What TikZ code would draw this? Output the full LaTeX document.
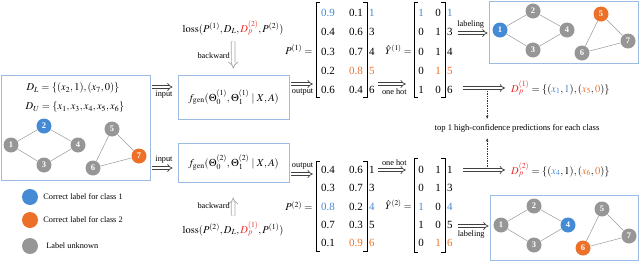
\documentclass[tikz,border=0pt]{standalone}
\usepackage{mathptmx}
\usepackage[no-math]{fontspec}
\setmainfont{Liberation Serif}
\usetikzlibrary{positioning, arrows.meta}

\definecolor{cblue}{RGB}{68,138,212}
\definecolor{corange}{RGB}{237,112,40}
\definecolor{gnodegray}{RGB}{150,150,150}
\definecolor{boxblue}{RGB}{155,187,226}
\definecolor{dpred}{RGB}{235,40,40}
\newcommand{\blu}[1]{\textcolor{cblue}{#1}}
\newcommand{\ora}[1]{\textcolor{corange}{#1}}

\begin{document}
\begin{tikzpicture}[
    x=1pt, y=-1pt,
    gnode/.style={circle, fill=gnodegray, text=white, minimum size=15pt, inner sep=0pt, font=\fontsize{8.5}{9}\selectfont\bfseries},
    gnodeB/.style={gnode, fill=cblue},
    gnodeO/.style={gnode, fill=corange},
    gedge/.style={draw=gray!80, line width=0.5pt},
    gbox/.style={draw=boxblue, line width=0.8pt, inner sep=0pt},
    harrow/.style={draw=black!75, double=white, double distance=2pt, line width=0.7pt, -{Implies}},
    barrow/.style={harrow, draw=black!35, double distance=3pt},
    dotarrow/.style={draw=black!80, densely dotted, line width=0.7pt, -{Stealth[length=3.5pt]}},
    lbl/.style={font=\fontsize{8.3}{9}\selectfont, inner sep=1pt},
    ent/.style={font=\fontsize{11}{12}\selectfont, inner sep=0pt},
    eqn/.style={font=\fontsize{10.5}{12}\selectfont, inner sep=1pt},
    brk/.style={line width=0.6pt}
]
\useasboundingbox (0,0) rectangle (640,279);

% === INPUT GRAPH (LEFT) ===
\node[gbox, minimum width=149pt, minimum height=105pt] (gbL) at (75.5,127.5) {};
\node[eqn] (DL) at (73,88) {$D_L=\{(x_2,1),(x_7,0)\}$};
\node[eqn] (DU) at (75,107) {$D_U=\{x_1,x_3,x_4,x_5,x_6\}$};

\begin{scope}[shift={(11,145)}]
    \node[gnode] (L1) at (0,0) {1};
    \node[gnodeB] (L2) at (33,-19) {2};
    \node[gnode] (L3) at (33,20) {3};
    \node[gnode] (L4) at (67,0) {4};
    \node[gnode] (L5) at (101,-16) {5};
    \node[gnode] (L6) at (82,23) {6};
    \node[gnodeO] (L7) at (128,11) {7};
    \draw[gedge] (L1) -- (L2) -- (L4) -- (L3) -- (L1);
    \draw[gedge] (L5) -- (L7) -- (L6) -- (L5);
\end{scope}

% Legend
\node[gnodeB, minimum size=16pt] (legB) at (30,197) {};
\node[lbl, right=4pt of legB] (legBt) {Correct label for class 1};
\node[gnodeO, minimum size=16pt] (legO) at (30,220) {};
\node[lbl, right=4pt of legO] (legOt) {Correct label for class 2};
\node[gnode, minimum size=16pt] (legG) at (30,246) {};
\node[lbl, right=7pt of legG] (legGt) {Label unknown};

% === TWO GENERATORS ===
\node[gbox, minimum width=111pt, minimum height=44pt] (fgen1) at (233.5,97) {};
\node[eqn] (fgen1t) at (fgen1.center) {$f_{\mathrm{gen}}(\Theta_0^{(1)},\Theta_1^{(1)}\mid X,A)$};
\node[gbox, minimum width=111pt, minimum height=39pt] (fgen2) at (233.5,162.5) {};
\node[eqn] (fgen2t) at (fgen2.center) {$f_{\mathrm{gen}}(\Theta_0^{(2)},\Theta_1^{(2)}\mid X,A)$};

\node[eqn] (loss1) at (233,28) {$\mathrm{loss}(P^{(1)},D_L,\textcolor{dpred}{D_p^{(2)}},P^{(2)})$};
\node[eqn] (loss2) at (233,229) {$\mathrm{loss}(P^{(2)},D_L,\textcolor{dpred}{D_p^{(1)}},P^{(1)})$};
\draw[barrow, shorten <=5pt, shorten >=6pt] (loss1) -- node[left=2pt, lbl]{backward} (fgen1);
\draw[barrow, shorten <=5pt, shorten >=15pt] (loss2) -- node[left=2pt, lbl, pos=0.4]{backward} (fgen2);

% Arrow levels
\coordinate (lvIn1) at (0,87);
\coordinate (lvIn2) at (0,168);
\coordinate (lvOut1) at (0,84);
\coordinate (lvOut2) at (0,174);
\coordinate (lvHot1) at (0,84);
\coordinate (lvHot2) at (0,170);
\coordinate (lvLab1) at (0,33);
\coordinate (lvLab2) at (0,226);
\coordinate (lvDp1) at (0,88);
\coordinate (lvDp2) at (0,170);

\draw[harrow, shorten <=2pt, shorten >=5pt] (gbL.east |- lvIn1) -- node[below=3pt, lbl]{input} (fgen1.west |- lvIn1);
\draw[harrow, shorten <=2pt, shorten >=5pt] (gbL.east |- lvIn2) -- node[above=3pt, lbl]{input} (fgen2.west |- lvIn2);

% === PREDICTION MATRICES ===
\node[inner sep=0pt, minimum width=51pt, minimum height=95pt] (P1) at (341.5,49.5) {};
\node[eqn, left=2pt of P1] (P1eq) {$P^{(1)}=$};
\draw[brk] ([xshift=4pt]P1.north west) -- (P1.north west) -- (P1.south west) -- ([xshift=4pt]P1.south west);
\draw[brk] ([xshift=-4pt]P1.north east) -- (P1.north east) -- (P1.south east) -- ([xshift=-4pt]P1.south east);
\foreach \a/\b/\r [count=\i] in {{\blu{0.9}}/0.1/{\blu{1}}, 0.4/0.6/3, 0.3/0.7/4, 0.2/{\ora{0.8}}/{\ora{5}}, 0.6/0.4/6}
{
    \node[ent] (P1a\i) at (328,-6.25+19.25*\i) {\a};
    \node[ent] (P1b\i) at (356,-6.25+19.25*\i) {\b};
    \node[ent, anchor=west] (P1r\i) at (369,-6.25+19.25*\i) {\r};
}

\node[inner sep=0pt, minimum width=51pt, minimum height=90pt] (P2) at (341.5,206) {};
\node[eqn, left=2pt of P2] (P2eq) {$P^{(2)}=$};
\draw[brk] ([xshift=4pt]P2.north west) -- (P2.north west) -- (P2.south west) -- ([xshift=4pt]P2.south west);
\draw[brk] ([xshift=-4pt]P2.north east) -- (P2.north east) -- (P2.south east) -- ([xshift=-4pt]P2.south east);
\foreach \a/\b/\r [count=\i] in {0.4/0.6/1, 0.3/0.7/3, {\blu{0.8}}/0.2/{\blu{4}}, 0.7/0.3/5, 0.1/{\ora{0.9}}/{\ora{6}}}
{
    \node[ent] (P2a\i) at (328,151.75+18.25*\i) {\a};
    \node[ent] (P2b\i) at (356,151.75+18.25*\i) {\b};
    \node[ent, anchor=west] (P2r\i) at (369,151.75+18.25*\i) {\r};
}

\draw[harrow, shorten <=2pt, shorten >=3pt] (fgen1.east |- lvOut1) -- node[below=3pt, lbl]{output} (P1.west |- lvOut1);
\draw[harrow, shorten <=2pt, shorten >=3pt] (fgen2.east |- lvOut2) -- node[above=3pt, lbl]{output} (P2.west |- lvOut2);

% === ONE-HOT MATRICES ===
\node[inner sep=0pt, minimum width=31pt, minimum height=95pt] (Y1) at (429.5,49.5) {};
\node[eqn, left=1pt of Y1, font=\fontsize{10}{12}\selectfont] (Y1eq) {$\hat{Y}^{(1)}=$};
\draw[brk] ([xshift=4pt]Y1.north west) -- (Y1.north west) -- (Y1.south west) -- ([xshift=4pt]Y1.south west);
\draw[brk] ([xshift=-4pt]Y1.north east) -- (Y1.north east) -- (Y1.south east) -- ([xshift=-4pt]Y1.south east);
\foreach \a/\b/\r [count=\i] in {{\blu{1}}/0/{\blu{1}}, 0/1/3, 0/1/4, 0/{\ora{1}}/{\ora{5}}, 1/0/6}
{
    \node[ent] (Y1a\i) at (421,-6.25+19.25*\i) {\a};
    \node[ent] (Y1b\i) at (438,-6.25+19.25*\i) {\b};
    \node[ent, anchor=west] (Y1r\i) at (447,-6.25+19.25*\i) {\r};
}

\node[inner sep=0pt, minimum width=31pt, minimum height=94pt] (Y2) at (429.5,205) {};
\node[eqn, left=1pt of Y2, font=\fontsize{10}{12}\selectfont] (Y2eq) {$\hat{Y}^{(2)}=$};
\draw[brk] ([xshift=4pt]Y2.north west) -- (Y2.north west) -- (Y2.south west) -- ([xshift=4pt]Y2.south west);
\draw[brk] ([xshift=-4pt]Y2.north east) -- (Y2.north east) -- (Y2.south east) -- ([xshift=-4pt]Y2.south east);
\foreach \a/\b/\r [count=\i] in {0/1/1, 0/1/3, {\blu{1}}/0/{\blu{4}}, 1/0/5, 0/{\ora{1}}/{\ora{6}}}
{
    \node[ent] (Y2a\i) at (421,151.75+18.25*\i) {\a};
    \node[ent] (Y2b\i) at (438,151.75+18.25*\i) {\b};
    \node[ent, anchor=west] (Y2r\i) at (447,151.75+18.25*\i) {\r};
}

\draw[harrow, shorten <=3pt, shorten >=8pt] (P1r5.east |- lvHot1) -- node[below=3pt, lbl]{one hot} (Y1.west |- lvHot1);
\draw[harrow, shorten <=3pt, shorten >=8pt] (P2r1.east |- lvHot2) -- node[above=3pt, lbl]{one hot} (Y2.west |- lvHot2);

% === LABELED GRAPHS (RIGHT) ===
\node[gbox, minimum width=149pt, minimum height=62pt] (gbT) at (563.5,32) {};
\node[gbox, minimum width=148pt, minimum height=65pt] (gbB) at (564,227.5) {};

\begin{scope}[shift={(500,30)}]
    \node[gnodeB] (T1) at (0,0) {1};
    \node[gnode] (T2) at (33,-19) {2};
    \node[gnode] (T3) at (33,20) {3};
    \node[gnode] (T4) at (67,0) {4};
    \node[gnodeO] (T5) at (101,-16) {5};
    \node[gnode] (T6) at (82,23) {6};
    \node[gnode] (T7) at (128,11) {7};
    \draw[gedge] (T1) -- (T2) -- (T4) -- (T3) -- (T1);
    \draw[gedge] (T5) -- (T7) -- (T6) -- (T5);
\end{scope}

\begin{scope}[shift={(501,225)}]
    \node[gnode] (B1) at (0,0) {1};
    \node[gnode] (B2) at (33,-19) {2};
    \node[gnode] (B3) at (33,20) {3};
    \node[gnodeB] (B4) at (67,0) {4};
    \node[gnode] (B5) at (101,-16) {5};
    \node[gnodeO] (B6) at (82,23) {6};
    \node[gnode] (B7) at (128,11) {7};
    \draw[gedge] (B1) -- (B2) -- (B4) -- (B3) -- (B1);
    \draw[gedge] (B5) -- (B7) -- (B6) -- (B5);
\end{scope}

\draw[harrow, shorten <=5pt, shorten >=1pt] (Y1r5.east |- lvLab1) -- node[above=3pt, lbl]{labeling} (gbT.west |- lvLab1);
\draw[harrow, shorten <=5pt, shorten >=1pt] (Y2r5.east |- lvLab2) -- node[below=3pt, lbl]{labeling} (gbB.west |- lvLab2);

% === PSEUDO-LABEL SETS ===
\node[eqn, anchor=west] (Dp1) at (510,88) {$\textcolor{dpred}{D_p^{(1)}}=\{(\blu{x_1},\blu{1}),(\ora{x_5},\ora{0})\}$};
\node[eqn, anchor=west] (Dp2) at (510,170) {$\textcolor{dpred}{D_p^{(2)}}=\{(\blu{x_4},1),(\ora{x_6},\ora{0})\}$};
\node[lbl, font=\fontsize{8.6}{9}\selectfont] (topone) at (517,128) {top 1 high-confidence predictions for each class};

\draw[harrow, shorten <=10pt, shorten >=5pt] (Y1r5.east |- lvDp1) -- coordinate[pos=0.6] (dm1) (Dp1.west |- lvDp1);
\draw[harrow, shorten <=10pt, shorten >=5pt] (Y2r1.east |- lvDp2) -- coordinate[pos=0.6] (dm2) (Dp2.west |- lvDp2);
\draw[dotarrow, shorten <=3pt, shorten >=4pt] (dm1) -- (dm1 |- topone.north);
\draw[dotarrow, shorten <=3pt, shorten >=5pt] (dm2) -- (dm2 |- topone.south);

\end{tikzpicture}
\end{document}
